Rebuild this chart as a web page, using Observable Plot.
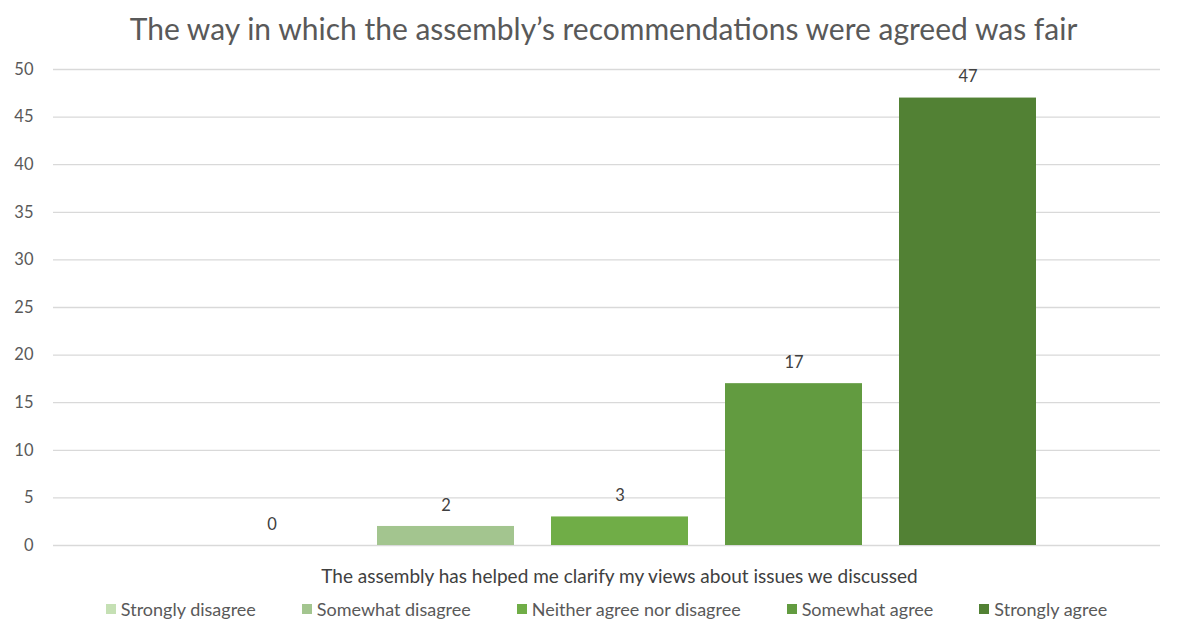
<!DOCTYPE html>
<html>
<head>
<meta charset="utf-8">
<script src="https://cdn.jsdelivr.net/npm/d3@7"></script>
<script src="https://cdn.jsdelivr.net/npm/@observablehq/plot@0.6"></script>
<style>
  body { margin: 0; background: #fff; font-family: Lato, sans-serif; width: 1177px; }
  #title { height: 50px; line-height: 56px; text-align: center; font-size: 30px; color: #595959; white-space: nowrap; padding-left: 30px; }
  #xlabel { height: 38px; line-height: 32px; text-align: center; font-size: 19px; color: #404040; padding-left: 62px; }
  #legend { display: flex; justify-content: center; gap: 46px; font-size: 18px; color: #595959; padding-left: 36px; margin-top: 0px; }
  #legend .item { display: flex; align-items: center; gap: 5px; }
  #legend .sw { width: 10px; height: 10px; display: inline-block; }
</style>
</head>
<body>
<div id="title">The way in which the assembly’s recommendations were agreed was fair</div>
<div id="chart"></div>
<div id="xlabel">The assembly has helped me clarify my views about issues we discussed</div>
<div id="legend"></div>
<script>
const categories = ["Strongly disagree", "Somewhat disagree", "Neither agree nor disagree", "Somewhat agree", "Strongly agree"];
const values = [0, 2, 3, 17, 47];
const colors = ["#c5e0b4", "#a3c58f", "#70ad47", "#629b40", "#528134"];
const yTicks = [0, 5, 10, 15, 20, 25, 30, 35, 40, 45, 50];
const xAxisLabel = "The assembly has helped me clarify my views about issues we discussed";

const data = categories.map((c, i) => ({category: c, value: values[i]}));

const plot = Plot.plot({
  width: 1177,
  height: 510,
  marginTop: 19,
  marginBottom: 15,
  marginLeft: 53,
  marginRight: 17,
  style: { fontFamily: "Lato, sans-serif", fontSize: "16px", color: "#595959", background: "#fff", overflow: "visible" },
  x: { domain: categories, range: [184.5, 1054.5], paddingInner: 0.213, paddingOuter: 0.106, axis: null },
  y: { domain: [0, 50], ticks: yTicks, grid: false, label: null },
  color: { domain: categories, range: colors },
  marks: [
    Plot.ruleY(yTicks, { stroke: "#d9d9d9", strokeWidth: 1.3 }),
    Plot.axisY({ ticks: yTicks, tickSize: 0, tickPadding: 20, label: null, fill: "#595959", fontSize: 16.5 }),
    Plot.barY(data, { x: "category", y: "value", fill: "category" }),
    Plot.text(data, { x: "category", y: "value", text: d => String(d.value), dy: -21, fill: "#404040", fontSize: 16.5 })
  ]
});
document.getElementById("chart").appendChild(plot);
document.getElementById("xlabel").textContent = xAxisLabel;

const legend = document.getElementById("legend");
categories.forEach((c, i) => {
  const item = document.createElement("div");
  item.className = "item";
  const sw = document.createElement("span");
  sw.className = "sw";
  sw.style.background = colors[i];
  const t = document.createElement("span");
  t.textContent = c;
  item.appendChild(sw);
  item.appendChild(t);
  legend.appendChild(item);
});
</script>
</body>
</html>
